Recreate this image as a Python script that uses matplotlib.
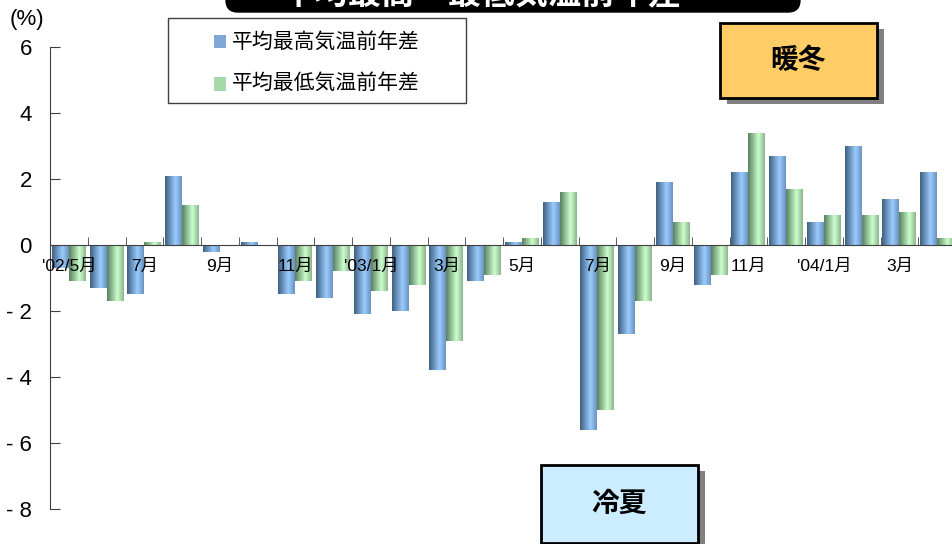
import numpy as np
import matplotlib.pyplot as plt
from matplotlib.colors import LinearSegmentedColormap
from matplotlib.patches import Rectangle, FancyBboxPatch

plt.rcParams['font.family'] = ['Liberation Sans', 'Noto Sans CJK JP', 'DejaVu Sans']

# 2002/5 - 2004/4, monthly
tick_pos = [0, 2, 4, 6, 8, 10, 12, 14, 16, 18, 20, 22]
tick_labels = ["'02/5月", "7月", "9月", "11月", "'03/1月", "3月",
               "5月", "7月", "9月", "11月", "'04/1月", "3月"]
max_diff = [-0.7, -1.3, -1.5, 2.1, -0.2, 0.1, -1.5, -1.6, -2.1, -2.0, -3.8, -1.1,
            0.1, 1.3, -5.6, -2.7, 1.9, -1.2, 2.2, 2.7, 0.7, 3.0, 1.4, 2.2]
min_diff = [-1.1, -1.7, 0.1, 1.2, 0.0, 0.0, -1.1, -0.8, -1.4, -1.2, -2.9, -0.9,
            0.2, 1.6, -5.0, -1.7, 0.7, -0.9, 3.4, 1.7, 0.9, 0.9, 1.0, 0.2]
yticks = [6, 4, 2, 0, -2, -4, -6, -8]
ylabels = ["6", "4", "2", "0", "- 2", "- 4", "- 6", "- 8"]

blue_cmap = LinearSegmentedColormap.from_list(
    "b", [(0, "#3f6080"), (0.62, "#9accff"), (1, "#6a92be")])
green_cmap = LinearSegmentedColormap.from_list(
    "g", [(0, "#5a8060"), (0.62, "#ccffcc"), (1, "#8cb48e")])
grad = np.linspace(0, 1, 64).reshape(1, -1)

W, H = 952, 544
fig = plt.figure(figsize=(W / 100, H / 100), dpi=100)
ax = fig.add_axes([50 / W, 35 / H, 906 / W, 462 / H])
ax.set_axisbelow(False)

x = np.arange(len(max_diff))
bw = 0.45
bars1 = ax.bar(x - bw / 2, max_diff, bw, color="none", linewidth=0)
bars2 = ax.bar(x + bw / 2, min_diff, bw, color="none", linewidth=0)


def shade(bars, cmap):
    for r in bars:
        h = r.get_height()
        if h == 0:
            continue
        x0 = r.get_x()
        y0, y1 = sorted([r.get_y(), r.get_y() + h])
        im = ax.imshow(grad, cmap=cmap, extent=[x0, x0 + r.get_width(), y0, y1],
                       aspect="auto", interpolation="bilinear", zorder=2)
        im.set_clip_path(r)


shade(bars1, blue_cmap)
shade(bars2, green_cmap)

ax.set_xlim(-0.5, 23.5)
ax.set_ylim(-8, 6)

for s in ["top", "right"]:
    ax.spines[s].set_visible(False)
ax.spines["bottom"].set_position(("data", 0))
ax.spines["bottom"].set_color("#404040")
ax.spines["left"].set_color("#404040")

ax.set_xticks(tick_pos)
ax.set_xticklabels(tick_labels, fontsize=12.5)
ax.set_xticks(np.arange(-0.5, 24, 1), minor=True)
ax.tick_params(axis="x", which="major", length=0, pad=10)
ax.tick_params(axis="x", which="minor", direction="in", length=6, color="#404040")

ax.set_yticks(yticks)
ax.set_yticklabels(ylabels, fontsize=16)
ax.tick_params(axis="y", direction="in", length=7, pad=13, color="#404040")

fig.text(10 / W, 1 - 19 / H, "(%)", fontsize=16, va="center", ha="left")

# legend box
fig.patches.append(Rectangle((168, H - 103), 298, 85, transform=None,
                             facecolor="white", edgecolor="#404040", lw=1, zorder=5))
fig.patches.append(Rectangle((214, H - 48), 12, 13, transform=None,
                             facecolor="#7fa8d8", edgecolor="none", zorder=6))
fig.patches.append(Rectangle((214, H - 91), 12, 14, transform=None,
                             facecolor="#a6d8a8", edgecolor="none", zorder=6))
fig.text(232 / W, 1 - 42 / H, "平均最高気温前年差", fontsize=15, va="center", zorder=7)
fig.text(232 / W, 1 - 83 / H, "平均最低気温前年差", fontsize=15, va="center", zorder=7)

# title box (cut at top)
fig.patches.append(FancyBboxPatch((226, H - 12), 574, 40, transform=None,
                                  boxstyle="round,pad=0,rounding_size=12",
                                  facecolor="black", edgecolor="black", zorder=5))
fig.text(482 / W, 1 - 4 / H, "平均最高・最低気温前年差", fontsize=24,
         color="white", fontweight="bold", ha="center", va="baseline", zorder=6)


def label_box(x0, y0, w, h, fc, txt):
    fig.patches.append(Rectangle((x0 + 7, H - y0 - h - 6), w, h, transform=None,
                                 facecolor="#808080", edgecolor="none", zorder=5))
    fig.patches.append(Rectangle((x0, H - y0 - h), w, h, transform=None,
                                 facecolor=fc, edgecolor="black", lw=2, zorder=6))
    fig.text((x0 + w / 2) / W, 1 - (y0 + h / 2) / H, txt, fontsize=20,
             fontweight="bold", ha="center", va="center", zorder=7,
             family=["Noto Sans CJK JP"])


label_box(720, 23, 157, 75, "#ffcc66", "暖冬")
label_box(541, 465, 157, 78, "#ccecff", "冷夏")

fig.savefig("out.png", dpi=100)
